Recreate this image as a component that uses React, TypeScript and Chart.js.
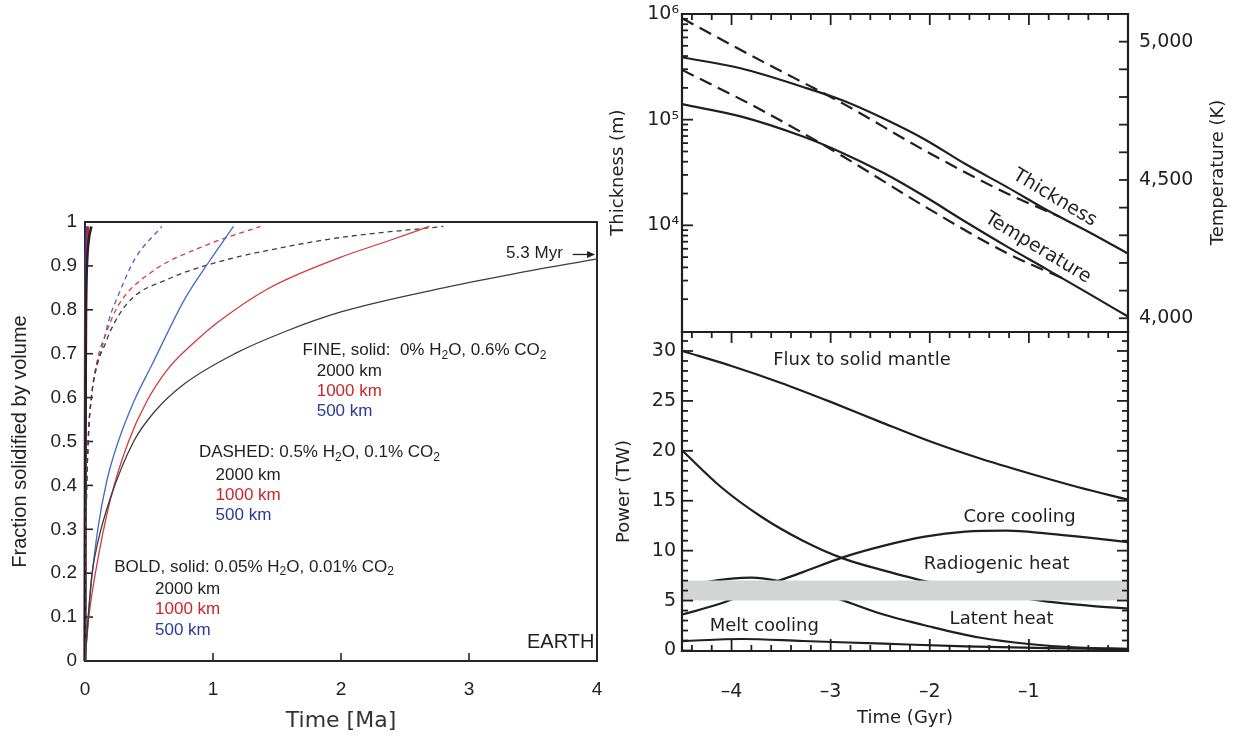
import React, { useEffect, useRef } from 'react';
import { Chart, registerables } from 'chart.js';

Chart.register(...registerables);

// ================= LEFT PANEL (Earth, fraction solidified vs time in Ma) =================
// FINE (solid lines): 0% H2O, 0.6% CO2
const fineBlackT = [0, 0.025, 0.053, 0.1, 0.197, 0.38, 0.55, 0.78, 1.17, 1.56, 2.0, 2.77, 3.3, 4.0];
const fineBlackF = [0, 0.1, 0.195, 0.27, 0.37, 0.5, 0.57, 0.632, 0.7, 0.75, 0.795, 0.848, 0.879, 0.916];
const fineRedT = [0, 0.03, 0.078, 0.2, 0.34, 0.48, 0.65, 0.85, 1.04, 1.43, 2.0, 2.35, 2.69];
const fineRedF = [0, 0.1, 0.195, 0.37, 0.5, 0.59, 0.666, 0.725, 0.772, 0.848, 0.92, 0.955, 0.99];
const fineBlueT = [0, 0.02, 0.05, 0.1, 0.17, 0.26, 0.38, 0.52, 0.78, 0.97, 1.16];
const fineBlueF = [0, 0.08, 0.18, 0.3, 0.41, 0.5, 0.59, 0.673, 0.825, 0.91, 0.99];
// DASHED: 0.5% H2O, 0.1% CO2
const dashBlackT = [0, 0.008, 0.025, 0.05, 0.1, 0.155, 0.195, 0.34, 0.65, 1.04, 1.56, 2.03, 2.8];
const dashBlackF = [0, 0.3, 0.5, 0.6, 0.68, 0.72, 0.75, 0.818, 0.87, 0.909, 0.943, 0.966, 0.99];
const dashRedT = [0, 0.008, 0.025, 0.05, 0.1, 0.156, 0.26, 0.52, 0.91, 1.37];
const dashRedF = [0, 0.3, 0.5, 0.6, 0.69, 0.74, 0.81, 0.886, 0.943, 0.99];
const dashBlueT = [0, 0.008, 0.025, 0.05, 0.09, 0.13, 0.19, 0.26, 0.39, 0.6];
const dashBlueF = [0, 0.3, 0.5, 0.6, 0.67, 0.71, 0.78, 0.833, 0.916, 0.99];
// BOLD, solid: 0.05% H2O, 0.01% CO2
const boldBlackT = [0, 0.003, 0.008, 0.015, 0.03, 0.05];
const boldBlackF = [0, 0.5, 0.8, 0.9, 0.96, 0.99];
const boldRedT = [0, 0.002, 0.006, 0.012, 0.025];
const boldRedF = [0, 0.5, 0.8, 0.9, 0.99];
const boldBlueT = [0, 0.001, 0.003, 0.006, 0.012];
const boldBlueF = [0, 0.5, 0.8, 0.9, 0.99];

const leftXTickLabels = [0, 1, 2, 3, 4];
const leftYTickLabels = [0, 0.1, 0.2, 0.3, 0.4, 0.5, 0.6, 0.7, 0.8, 0.9, 1];
const leftXInnerTicks = [1, 2, 3];
const leftYInnerTicks = [0.1, 0.2, 0.3, 0.4, 0.5, 0.6, 0.7, 0.8, 0.9];

// ================= RIGHT TOP PANEL (thickness / temperature vs time in Gyr) =================
const thickSolidT = [-4.5, -3.9, -3.28, -2.87, -2.46, -2.05, -1.64, -1.22, -0.81, -0.4, 0];
const thickSolidM = [3.9e5, 3.05e5, 2.04e5, 1.51e5, 1.02e5, 6.5e4, 3.8e4, 2.3e4, 1.38e4, 8.7e3, 5.4e3];
const thickDashT = [-4.5, -3.7, -2.87, -2.05, -1.22, -0.7];
const thickDashM = [9.1e5, 3.6e5, 1.41e5, 5.1e4, 2.0e4, 1.22e4];
const tempSolidT = [-4.5, -3.9, -3.28, -2.87, -2.46, -2.05, -1.64, -1.22, -0.81, -0.4, 0];
const tempSolidK = [4774, 4729, 4657, 4596, 4524, 4440, 4349, 4259, 4175, 4090, 4006];
const tempDashT = [-4.5, -3.7, -2.87, -2.05, -1.22, -0.65];
const tempDashK = [4898, 4753, 4584, 4404, 4235, 4143];

const thickTickLabels = [1e4, 1e5, 1e6];
const thickMajorTicks = [1e4, 1e5];
const thickMinorTicks = [2e3, 3e3, 4e3, 5e3, 6e3, 7e3, 8e3, 9e3, 2e4, 3e4, 4e4, 5e4, 6e4, 7e4, 8e4, 9e4, 2e5, 3e5, 4e5, 5e5, 6e5, 7e5, 8e5, 9e5];
const tempTickLabels = [4000, 4500, 5000];
const tempInnerTicks = [4000, 4100, 4200, 4300, 4400, 4500, 4600, 4700, 4800, 4900, 5000];

// ================= RIGHT BOTTOM PANEL (power in TW vs time in Gyr) =================
const fluxT = [-4.5, -4.0, -3.5, -3.0, -2.5, -2.0, -1.5, -1.0, -0.5, 0];
const fluxP = [30.0, 28.5, 26.8, 24.9, 22.9, 20.95, 19.25, 17.75, 16.35, 15.1];
const radioT = [-4.5, -4.11, -3.7, -3.28, -2.87, -2.46, -2.05, -1.64, -1.22, -0.81, -0.4, 0];
const radioP = [20.05, 16.4, 13.4, 11.0, 9.2, 8.0, 6.95, 6.2, 5.5, 4.9, 4.5, 4.2];
const coreT = [-4.5, -4.11, -3.7, -3.28, -2.87, -2.46, -2.05, -1.64, -1.22, -0.81, -0.4, 0];
const coreP = [3.6, 4.7, 6.35, 7.85, 9.35, 10.5, 11.4, 11.9, 12.0, 11.7, 11.3, 10.85];
const latentT = [-4.5, -4.25, -4.0, -3.8, -3.5, -3.0, -2.5, -2.0, -1.5, -1.0, -0.5, 0];
const latentP = [6.2, 6.85, 7.2, 7.3, 6.9, 5.45, 3.7, 2.4, 1.3, 0.65, 0.3, 0.17];
const meltT = [-4.5, -3.9, -3.28, -2.46, -1.64, -0.81, 0];
const meltP = [0.94, 1.15, 0.95, 0.68, 0.42, 0.24, 0.12];
const bandT = [-4.5, 0];
const bandLow = [5, 5];
const bandHigh = [7, 7];

const timeTickLabels = [-4, -3, -2, -1];
const timeMajorTicks = [-4, -3, -2, -1];
const timeMinorTicks = [-4.4, -4.2, -3.8, -3.6, -3.4, -3.2, -2.8, -2.6, -2.4, -2.2, -1.8, -1.6, -1.4, -1.2, -0.8, -0.6, -0.4, -0.2];
const powerTickLabels = [0, 5, 10, 15, 20, 25, 30];
const powerMajorTicks = [0, 5, 10, 15, 20, 25, 30];
const powerMinorTicks = [1, 2, 3, 4, 6, 7, 8, 9, 11, 12, 13, 14, 16, 17, 18, 19, 21, 22, 23, 24, 26, 27, 28, 29, 31];

// ================= helpers =================
const LFONT = '"Liberation Sans", Arial, sans-serif';
const RFONT = '"DejaVu Sans", sans-serif';
const INK = '#1f1f1f';
const RED = '#d23a3a';
const BLUE = '#4169c6';
const RED_TXT = '#cc2529';
const BLUE_TXT = '#2a399c';

const pts = (xs: number[], ys: number[]) => xs.map((x, i) => ({ x, y: ys[i] }));

type Side = 'left' | 'right' | 'top' | 'bottom';
type TickSpec = { axis: string; side: Side; values: number[]; len: number };

const noPad = (s: any) => {
  s.paddingTop = 0;
  s.paddingBottom = 0;
  s.paddingLeft = 0;
  s.paddingRight = 0;
};

function framePlugin(o: { sides: Side[]; ticks: TickSpec[]; color: string; width: number; tickWidth: number; before?: boolean }) {
  const draw = (chart: any) => {
    const { ctx, chartArea: a } = chart;
    ctx.save();
    ctx.strokeStyle = o.color;
    ctx.lineWidth = o.tickWidth;
    for (const t of o.ticks) {
      const sc = chart.scales[t.axis];
      for (const v of t.values) {
        const p = sc.getPixelForValue(v);
        ctx.beginPath();
        if (t.side === 'left') { ctx.moveTo(a.left, p); ctx.lineTo(a.left + t.len, p); }
        else if (t.side === 'right') { ctx.moveTo(a.right, p); ctx.lineTo(a.right - t.len, p); }
        else if (t.side === 'top') { ctx.moveTo(p, a.top); ctx.lineTo(p, a.top + t.len); }
        else { ctx.moveTo(p, a.bottom); ctx.lineTo(p, a.bottom - t.len); }
        ctx.stroke();
      }
    }
    ctx.lineWidth = o.width;
    ctx.lineCap = 'square';
    for (const s of o.sides) {
      ctx.beginPath();
      if (s === 'left') { ctx.moveTo(a.left, a.top); ctx.lineTo(a.left, a.bottom); }
      if (s === 'right') { ctx.moveTo(a.right, a.top); ctx.lineTo(a.right, a.bottom); }
      if (s === 'top') { ctx.moveTo(a.left, a.top); ctx.lineTo(a.right, a.top); }
      if (s === 'bottom') { ctx.moveTo(a.left, a.bottom); ctx.lineTo(a.right, a.bottom); }
      ctx.stroke();
    }
    ctx.restore();
  };
  return o.before ? { id: 'frame', beforeDatasetsDraw: draw } : { id: 'frame', afterDatasetsDraw: draw };
}

type Note = {
  text: string; x: number; y: number; xAxis?: string; yAxis?: string;
  size: number; family: string; color?: string; align?: 'left' | 'right' | 'center'; rotate?: number;
};

function drawRich(ctx: CanvasRenderingContext2D, text: string, x: number, y: number, size: number, family: string, align: string) {
  const parts = text.split(/_(\d)/);
  const segs = parts.map((t, i) => ({ t, sub: i % 2 === 1 })).filter((s) => s.t.length > 0);
  const main = `${size}px ${family}`;
  const small = `${Math.round(size * 0.72)}px ${family}`;
  let w = 0;
  for (const s of segs) { ctx.font = s.sub ? small : main; w += ctx.measureText(s.t).width; }
  let cx = align === 'right' ? x - w : align === 'center' ? x - w / 2 : x;
  ctx.textAlign = 'left';
  ctx.textBaseline = 'middle';
  for (const s of segs) {
    ctx.font = s.sub ? small : main;
    ctx.fillText(s.t, cx, s.sub ? y + size * 0.3 : y);
    cx += ctx.measureText(s.t).width;
  }
}

function notesPlugin(notes: Note[], extra?: (chart: any) => void) {
  return {
    id: 'notes',
    afterDatasetsDraw(chart: any) {
      const ctx = chart.ctx as CanvasRenderingContext2D;
      ctx.save();
      for (const n of notes) {
        const px = chart.scales[n.xAxis || 'x'].getPixelForValue(n.x);
        const py = chart.scales[n.yAxis || 'y'].getPixelForValue(n.y);
        ctx.fillStyle = n.color || INK;
        if (n.rotate) {
          ctx.save();
          ctx.translate(px, py);
          ctx.rotate((n.rotate * Math.PI) / 180);
          drawRich(ctx, n.text, 0, 0, n.size, n.family, n.align || 'center');
          ctx.restore();
        } else {
          drawRich(ctx, n.text, px, py, n.size, n.family, n.align || 'left');
        }
      }
      if (extra) extra(chart);
      ctx.restore();
    },
  };
}

function ChartBox(props: { left: number; top: number; width: number; height: number; make: () => any }) {
  const ref = useRef<HTMLCanvasElement>(null);
  useEffect(() => {
    const chart = new Chart(ref.current as HTMLCanvasElement, props.make());
    return () => chart.destroy();
  }, []);
  return (
    <div style={{ position: 'absolute', left: props.left, top: props.top, width: props.width, height: props.height }}>
      <canvas ref={ref} />
    </div>
  );
}

const lineDs = (label: string, xs: number[], ys: number[], color: string, width: number, dash: number[] = [], yAxisID = 'y', clip: number | undefined = undefined) => ({
  label,
  data: pts(xs, ys),
  borderColor: color,
  backgroundColor: color,
  borderWidth: width,
  borderDash: dash,
  pointRadius: 0,
  fill: false,
  cubicInterpolationMode: 'monotone',
  yAxisID,
  ...(clip !== undefined ? { clip } : {}),
});

// ================= LEFT chart config =================
function makeLeft() {
  const notes: Note[] = [
    { text: 'FINE, solid:  0% H_2O, 0.6% CO_2', x: 1.70, y: 0.708, size: 17, family: LFONT },
    { text: '2000 km', x: 1.81, y: 0.661, size: 17, family: LFONT },
    { text: '1000 km', x: 1.81, y: 0.615, size: 17, family: LFONT, color: RED_TXT },
    { text: '500 km', x: 1.81, y: 0.568, size: 17, family: LFONT, color: BLUE_TXT },
    { text: 'DASHED: 0.5% H_2O, 0.1% CO_2', x: 0.89, y: 0.475, size: 17, family: LFONT },
    { text: '2000 km', x: 1.02, y: 0.424, size: 17, family: LFONT },
    { text: '1000 km', x: 1.02, y: 0.377, size: 17, family: LFONT, color: RED_TXT },
    { text: '500 km', x: 1.02, y: 0.331, size: 17, family: LFONT, color: BLUE_TXT },
    { text: 'BOLD, solid: 0.05% H_2O, 0.01% CO_2', x: 0.228, y: 0.214, size: 17, family: LFONT },
    { text: '2000 km', x: 0.547, y: 0.163, size: 17, family: LFONT },
    { text: '1000 km', x: 0.547, y: 0.117, size: 17, family: LFONT, color: RED_TXT },
    { text: '500 km', x: 0.547, y: 0.07, size: 17, family: LFONT, color: BLUE_TXT },
    { text: 'EARTH', x: 3.98, y: 0.043, size: 20, family: LFONT, align: 'right' },
    { text: '5.3 Myr', x: 3.29, y: 0.928, size: 17, family: LFONT },
  ];
  const arrow = (chart: any) => {
    const ctx = chart.ctx as CanvasRenderingContext2D;
    const x0 = chart.scales.x.getPixelForValue(3.81);
    const x1 = chart.scales.x.getPixelForValue(3.985);
    const y = chart.scales.y.getPixelForValue(0.926);
    ctx.strokeStyle = INK;
    ctx.fillStyle = INK;
    ctx.lineWidth = 1.3;
    ctx.beginPath(); ctx.moveTo(x0, y); ctx.lineTo(x1 - 6, y); ctx.stroke();
    ctx.beginPath(); ctx.moveTo(x1, y); ctx.lineTo(x1 - 8, y - 3.5); ctx.lineTo(x1 - 8, y + 3.5); ctx.closePath(); ctx.fill();
  };
  return {
    type: 'line',
    data: {
      datasets: [
        lineDs('fine 2000 km', fineBlackT, fineBlackF, '#3d3d3d', 1.3),
        lineDs('fine 1000 km', fineRedT, fineRedF, RED, 1.3),
        lineDs('fine 500 km', fineBlueT, fineBlueF, BLUE, 1.3),
        lineDs('dashed 2000 km', dashBlackT, dashBlackF, '#3d3d3d', 1.3, [5, 4]),
        lineDs('dashed 1000 km', dashRedT, dashRedF, RED, 1.3, [5, 4]),
        lineDs('dashed 500 km', dashBlueT, dashBlueF, BLUE, 1.3, [5, 4]),
        lineDs('bold 2000 km', boldBlackT, boldBlackF, '#222', 2.6, [], 'y', 4),
        lineDs('bold 1000 km', boldRedT, boldRedF, '#c8282d', 2.6, [], 'y', 4),
        lineDs('bold 500 km', boldBlueT, boldBlueF, '#2a3aa0', 2.8, [], 'y', 4),
      ],
    },
    options: {
      animation: false,
      responsive: true,
      maintainAspectRatio: false,
      layout: { padding: { top: 222, right: 23, left: 0, bottom: 0 } },
      plugins: { legend: { display: false }, tooltip: { enabled: false } },
      scales: {
        x: {
          type: 'linear', min: 0, max: 4,
          afterBuildTicks: (s: any) => { s.ticks = leftXTickLabels.map((v) => ({ value: v })); },
          afterFit: (s: any) => { s.height = 76; noPad(s); },
          ticks: { callback: (v: any) => String(v), font: { family: LFONT, size: 19 }, color: '#222', padding: 17, autoSkip: false, maxRotation: 0 },
          grid: { display: false, drawTicks: false },
          border: { display: false },
          title: { display: true, text: 'Time [Ma]', font: { family: RFONT, size: 22 }, color: '#333', padding: { top: 0, bottom: 3 } },
        },
        y: {
          type: 'linear', min: 0, max: 1,
          afterBuildTicks: (s: any) => { s.ticks = leftYTickLabels.map((v) => ({ value: v })); },
          afterFit: (s: any) => { s.width = 85; noPad(s); },
          ticks: { callback: (v: any) => String(v), font: { family: LFONT, size: 19 }, color: '#222', padding: 8, autoSkip: false },
          grid: { display: false, drawTicks: false },
          border: { display: false },
          title: { display: true, text: 'Fraction solidified by volume', font: { family: LFONT, size: 20 }, color: '#222', padding: { top: 8, bottom: 0 } },
        },
      },
    },
    plugins: [
      framePlugin({
        sides: ['left', 'right', 'top', 'bottom'],
        ticks: [
          { axis: 'y', side: 'left', values: leftYInnerTicks, len: 8 },
          { axis: 'x', side: 'bottom', values: leftXInnerTicks, len: 8 },
        ],
        color: '#262626', width: 2, tickWidth: 1.6, before: true,
      }),
      notesPlugin(notes, arrow),
    ],
  };
}

// ================= RIGHT TOP chart config =================
const supMap: Record<string, string> = { '4': '\u2074', '5': '\u2075', '6': '\u2076' };
function makeTop() {
  const notes: Note[] = [
    { text: 'Thickness', x: -0.74, y: 18150, yAxis: 'y', size: 19, family: RFONT, rotate: 31 },
    { text: 'Temperature', x: -0.91, y: 4254, yAxis: 'yT', size: 19, family: RFONT, rotate: 31 },
  ];
  const tempTitle = (chart: any) => {
    const ctx = chart.ctx as CanvasRenderingContext2D;
    const a = chart.chartArea;
    ctx.save();
    ctx.translate(a.right + 90, (a.top + a.bottom) / 2);
    ctx.rotate(-Math.PI / 2);
    ctx.fillStyle = '#222';
    ctx.font = `18px ${RFONT}`;
    ctx.textAlign = 'center';
    ctx.textBaseline = 'middle';
    ctx.fillText('Temperature (K)', 0, 0);
    ctx.restore();
  };
  return {
    type: 'line',
    data: {
      datasets: [
        lineDs('Thickness', thickSolidT, thickSolidM, INK, 2.2, [], 'y'),
        lineDs('Thickness (dashed)', thickDashT, thickDashM, INK, 2.2, [13, 7], 'y'),
        lineDs('Temperature', tempSolidT, tempSolidK, INK, 2.2, [], 'yT'),
        lineDs('Temperature (dashed)', tempDashT, tempDashK, INK, 2.2, [13, 7], 'yT'),
      ],
    },
    options: {
      animation: false,
      responsive: true,
      maintainAspectRatio: false,
      layout: { padding: { top: 14, right: 0, left: 0, bottom: 1 } },
      plugins: { legend: { display: false }, tooltip: { enabled: false } },
      scales: {
        x: { type: 'linear', min: -4.5, max: 0, display: false, afterFit: noPad },
        y: {
          type: 'logarithmic', min: 1000, max: 1e6, position: 'left',
          afterBuildTicks: (s: any) => { s.ticks = thickTickLabels.map((v) => ({ value: v })); },
          afterFit: (s: any) => { s.width = 82; noPad(s); },
          ticks: {
            callback: (v: any) => '10' + (supMap[String(Math.round(Math.log10(v)))] || ''),
            font: { family: RFONT, size: 19 }, color: '#222', padding: 3, autoSkip: false,
          },
          grid: { display: false, drawTicks: false },
          border: { display: false },
          title: { display: true, text: 'Thickness (m)', font: { family: RFONT, size: 18 }, color: '#222', padding: { top: 8, bottom: 0 } },
        },
        yT: {
          type: 'linear', min: 3954, max: 5100, position: 'right',
          afterBuildTicks: (s: any) => { s.ticks = tempTickLabels.map((v) => ({ value: v })); },
          afterFit: (s: any) => { s.width = 111; noPad(s); },
          ticks: {
            callback: (v: any) => Number(v).toLocaleString('en-US'),
            font: { family: RFONT, size: 19 }, color: '#222', padding: 11, autoSkip: false,
          },
          grid: { display: false, drawTicks: false },
          border: { display: false },
        },
      },
    },
    plugins: [
      framePlugin({
        sides: ['left', 'right', 'top'],
        ticks: [
          { axis: 'y', side: 'left', values: thickMajorTicks, len: 11 },
          { axis: 'y', side: 'left', values: thickMinorTicks, len: 6 },
          { axis: 'yT', side: 'right', values: tempInnerTicks, len: 9 },
          { axis: 'x', side: 'top', values: timeMajorTicks, len: 11 },
          { axis: 'x', side: 'top', values: timeMinorTicks, len: 6 },
        ],
        color: '#1f1f1f', width: 2.2, tickWidth: 1.8,
      }),
      notesPlugin(notes, tempTitle),
    ],
  };
}

// ================= RIGHT BOTTOM chart config =================
function makeBottom() {
  const notes: Note[] = [
    { text: 'Flux to solid mantle', x: -3.58, y: 29.1, size: 18, family: RFONT },
    { text: 'Core cooling', x: -1.66, y: 13.3, size: 18, family: RFONT },
    { text: 'Radiogenic heat', x: -2.06, y: 8.6, size: 18, family: RFONT },
    { text: 'Latent heat', x: -1.80, y: 3.15, size: 18, family: RFONT },
    { text: 'Melt cooling', x: -4.22, y: 2.45, size: 18, family: RFONT },
  ];
  return {
    type: 'line',
    data: {
      datasets: [
        { ...lineDs('band low', bandT, bandLow, 'rgba(0,0,0,0)', 0), cubicInterpolationMode: 'default' },
        { ...lineDs('Present-day range', bandT, bandHigh, 'rgba(0,0,0,0)', 0), fill: '-1', backgroundColor: '#d3d4d4', cubicInterpolationMode: 'default' },
        lineDs('Flux to solid mantle', fluxT, fluxP, INK, 2.2),
        lineDs('Radiogenic heat', radioT, radioP, INK, 2.2),
        lineDs('Core cooling', coreT, coreP, INK, 2.2),
        lineDs('Latent heat', latentT, latentP, INK, 2.2),
        lineDs('Melt cooling', meltT, meltP, INK, 2.2),
      ],
    },
    options: {
      animation: false,
      responsive: true,
      maintainAspectRatio: false,
      layout: { padding: { top: 1, right: 111, left: 0, bottom: 0 } },
      plugins: { legend: { display: false }, tooltip: { enabled: false } },
      scales: {
        x: {
          type: 'linear', min: -4.5, max: 0,
          afterBuildTicks: (s: any) => { s.ticks = timeTickLabels.map((v) => ({ value: v })); },
          afterFit: (s: any) => { s.height = 86; noPad(s); },
          ticks: {
            callback: (v: any) => '\u2013' + Math.abs(v),
            font: { family: RFONT, size: 19 }, color: '#222', padding: 30, autoSkip: false, maxRotation: 0,
          },
          grid: { display: false, drawTicks: false },
          border: { display: false },
          title: { display: true, text: 'Time (Gyr)', font: { family: RFONT, size: 18 }, color: '#222', padding: { top: 0, bottom: 8 } },
        },
        y: {
          type: 'linear', min: -0.05, max: 31.9,
          afterBuildTicks: (s: any) => { s.ticks = powerTickLabels.map((v) => ({ value: v })); },
          afterFit: (s: any) => { s.width = 82; noPad(s); },
          ticks: { callback: (v: any) => String(v), font: { family: RFONT, size: 19 }, color: '#222', padding: 6, autoSkip: false },
          grid: { display: false, drawTicks: false },
          border: { display: false },
          title: { display: true, text: 'Power (TW)', font: { family: RFONT, size: 18 }, color: '#222', padding: { top: 14, bottom: 0 } },
        },
      },
    },
    plugins: [
      framePlugin({
        sides: ['left', 'right', 'top', 'bottom'],
        ticks: [
          { axis: 'y', side: 'left', values: powerMajorTicks, len: 11 },
          { axis: 'y', side: 'left', values: powerMinorTicks, len: 6 },
          { axis: 'y', side: 'right', values: powerMajorTicks, len: 11 },
          { axis: 'y', side: 'right', values: powerMinorTicks, len: 6 },
          { axis: 'x', side: 'top', values: timeMajorTicks, len: 11 },
          { axis: 'x', side: 'top', values: timeMinorTicks, len: 6 },
          { axis: 'x', side: 'bottom', values: timeMajorTicks, len: 12 },
          { axis: 'x', side: 'bottom', values: timeMinorTicks, len: 6 },
        ],
        color: '#1f1f1f', width: 2.2, tickWidth: 1.8,
      }),
      notesPlugin(notes),
    ],
  };
}

export default function App() {
  return (
    <div style={{ position: 'fixed', left: 0, top: 0, width: 1239, height: 737, background: '#fff', overflow: 'hidden' }}>
      <ChartBox left={0} top={0} width={620} height={737} make={makeLeft} />
      <ChartBox left={600} top={0} width={639} height={332} make={makeTop} />
      <ChartBox left={600} top={331} width={639} height={406} make={makeBottom} />
    </div>
  );
}
